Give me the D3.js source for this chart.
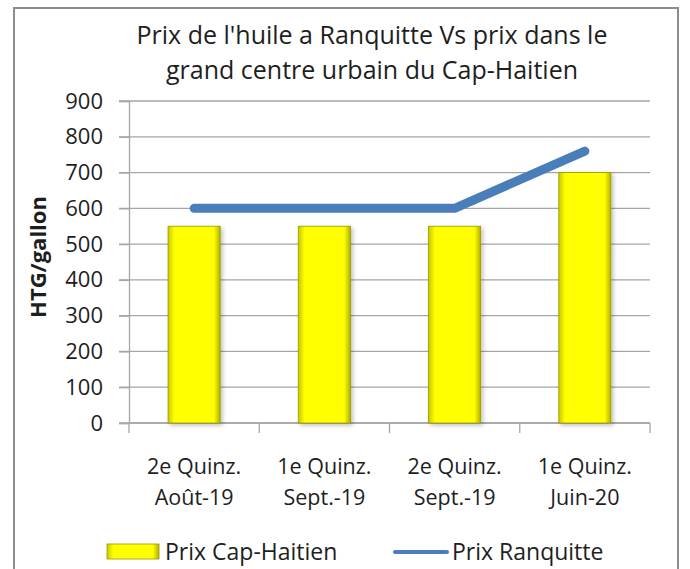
<!DOCTYPE html>
<meta charset="utf-8">
<style>
body { margin: 0; background: #fff; }
text { font-family: "Open Sans", "Liberation Sans", sans-serif; fill: #1e1e1e; }
.grid line { stroke: #a6a6a6; stroke-width: 1.3; }
.axis path, .axis line { stroke: #a6a6a6; stroke-width: 1.3; }
</style>
<svg width="690" height="569"></svg>
<script src="https://cdnjs.cloudflare.com/ajax/libs/d3/7.8.5/d3.min.js"></script>
<script>

var categories = [["2e Quinz.", "Août-19"], ["1e Quinz.", "Sept.-19"], ["2e Quinz.", "Sept.-19"], ["1e Quinz.", "Juin-20"]];
var capHaitien = [550, 550, 550, 700];
var ranquitte = [600, 600, 600, 760];
var yTicks = [0, 100, 200, 300, 400, 500, 600, 700, 800, 900];
var titleLines = ["Prix de l'huile a Ranquitte Vs prix dans le", "grand centre urbain du Cap-Haitien"];

var svg = d3.select("svg"),
    margin = {top: 101, left: 129, right: 40, bottom: 146},
    width = 650 - margin.left,
    height = 423 - margin.top;

// frame
svg.append("rect")
    .attr("x", 14).attr("y", 8)
    .attr("width", 664).attr("height", 580)
    .attr("fill", "#fff").attr("stroke", "#8c8c8c").attr("stroke-width", 2);

var defs = svg.append("defs");
var gh = defs.append("linearGradient").attr("id", "bevelH");
gh.append("stop").attr("offset", "0").attr("stop-color", "#c8c800");
gh.append("stop").attr("offset", "0.12").attr("stop-color", "#ffff00");
gh.append("stop").attr("offset", "0.88").attr("stop-color", "#ffff00");
gh.append("stop").attr("offset", "1").attr("stop-color", "#b0b000");
var sh = defs.append("filter").attr("id", "shadow").attr("x", "-20%").attr("y", "-10%").attr("width", "150%").attr("height", "130%");
sh.append("feDropShadow").attr("dx", 2).attr("dy", 2).attr("stdDeviation", 2).attr("flood-color", "#000").attr("flood-opacity", 0.25);

var x = d3.scaleBand().domain(d3.range(categories.length)).range([0, width]).paddingInner(0).paddingOuter(0);
var y = d3.scaleLinear().domain([0, 900]).range([height, 0]);

var g = svg.append("g").attr("transform", "translate(" + margin.left + "," + margin.top + ")");

// title
svg.append("g").selectAll("text")
    .data(titleLines)
  .enter().append("text")
    .attr("x", 372)
    .attr("y", function(d, i) { return 44 + i * 35; })
    .attr("text-anchor", "middle")
    .style("font-size", "25px")
    .text(function(d) { return d; });

// gridlines
g.append("g")
    .attr("class", "grid")
    .selectAll("line")
    .data(yTicks)
  .enter().append("line")
    .attr("x1", -10).attr("x2", width)
    .attr("y1", function(d) { return y(d); })
    .attr("y2", function(d) { return y(d); });

// y axis
var yAxis = g.append("g")
    .attr("class", "axis")
    .call(d3.axisLeft(y).tickValues(yTicks).tickSize(10).tickPadding(16));
yAxis.selectAll("text").style("font-size", "22px").attr("fill", "#1e1e1e");

g.append("text")
    .attr("transform", "rotate(-90)")
    .attr("x", -height / 2 + 5)
    .attr("y", -83)
    .attr("text-anchor", "middle")
    .style("font-size", "22px")
    .style("font-weight", "bold")
    .text("HTG/gallon");

// x axis
var xAxis = g.append("g")
    .attr("class", "axis")
    .attr("transform", "translate(0," + height + ")");
xAxis.append("line").attr("x1", 0).attr("x2", width);
xAxis.selectAll(".tk")
    .data(d3.range(categories.length + 1))
  .enter().append("line")
    .attr("x1", function(d) { return d * x.bandwidth(); })
    .attr("x2", function(d) { return d * x.bandwidth(); })
    .attr("y1", 0).attr("y2", 10);

var lbl = xAxis.selectAll(".lbl")
    .data(categories)
  .enter().append("text")
    .attr("text-anchor", "middle")
    .attr("transform", function(d, i) { return "translate(" + (x(i) + x.bandwidth() / 2) + ",51)"; })
    .style("font-size", "21.5px");
lbl.append("tspan").attr("x", 0).attr("dy", 0).text(function(d) { return d[0]; });
lbl.append("tspan").attr("x", 0).attr("dy", 31).text(function(d) { return d[1]; });

// bars
var bw = x.bandwidth() * 0.4;
g.selectAll(".bar")
    .data(capHaitien)
  .enter().append("rect")
    .attr("class", "bar")
    .attr("x", function(d, i) { return x(i) + (x.bandwidth() - bw) / 2; })
    .attr("y", function(d) { return y(d); })
    .attr("width", bw)
    .attr("height", function(d) { return height - y(d); })
    .attr("fill", "url(#bevelH)")
    .attr("stroke", "#9a9a00")
    .attr("stroke-width", 0.8)
    .attr("filter", "url(#shadow)");

// line
var line = d3.line()
    .x(function(d, i) { return x(i) + x.bandwidth() / 2; })
    .y(function(d) { return y(d); });
g.append("path")
    .datum(ranquitte)
    .attr("d", line)
    .attr("fill", "none")
    .attr("stroke", "#4a7ebb")
    .attr("stroke-width", 9)
    .attr("stroke-linecap", "round")
    .attr("stroke-linejoin", "round");

// legend
var leg = svg.append("g");
leg.append("rect")
    .attr("x", 107).attr("y", 544).attr("width", 52).attr("height", 15)
    .attr("fill", "url(#bevelH)").attr("stroke", "#9a9a00").attr("stroke-width", 0.8);
leg.append("text").attr("x", 165).attr("y", 560).style("font-size", "23px").text("Prix Cap-Haitien");
leg.append("line")
    .attr("x1", 395).attr("x2", 447).attr("y1", 552).attr("y2", 552)
    .attr("stroke", "#4a7ebb").attr("stroke-width", 4).attr("stroke-linecap", "round");
leg.append("text").attr("x", 452).attr("y", 560).style("font-size", "23px").text("Prix Ranquitte");

</script>
